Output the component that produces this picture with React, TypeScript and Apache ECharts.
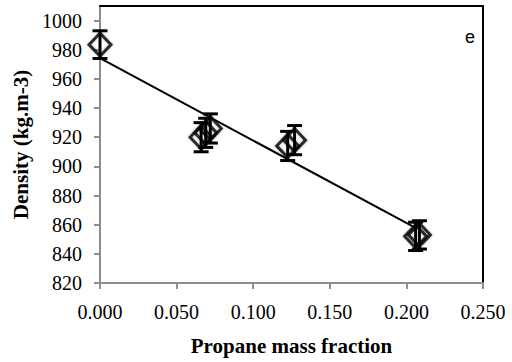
import React, { useEffect, useRef } from "react";
import * as echarts from "echarts";

// Propane mass fraction (x), density kg/m3 (y), error (±)
const massFraction = [0.0, 0.066, 0.069, 0.072, 0.1225, 0.127, 0.206, 0.2085];
const density = [983.5, 920, 923, 926, 914, 918, 852, 853];
const densityError = [9.5, 10, 10, 10, 10, 10, 9.7, 9.7];

// Linear trend line endpoints
const trendX = [0.0, 0.206];
const trendY = [974.2, 857.8];

const yTicks = [820, 840, 860, 880, 900, 920, 940, 960, 980, 1000];
const xTicks = [0, 0.05, 0.1, 0.15, 0.2, 0.25];

const AXIS_GRAY = "#8e8e8e";
const SERIF = "Liberation Serif";

const tickRich = { t: { fontFamily: SERIF, fontSize: 20, color: "#000" } };

export default function App() {
  const ref = useRef<HTMLDivElement>(null);

  useEffect(() => {
    if (!ref.current) return;
    const chart = echarts.init(ref.current, undefined, { renderer: "svg" });

    const points = massFraction.map((x, i) => [x, density[i]]);
    const errPoints = massFraction.map((x, i) => [x, density[i], densityError[i]]);
    const trend = trendX.map((x, i) => [x, trendY[i]]);

    chart.setOption({
      animation: false,
      backgroundColor: "#ffffff",
      textStyle: { fontFamily: SERIF, color: "#000" },
      grid: { left: 100, right: 29, top: 6, bottom: 79, containLabel: false },
      xAxis: [
        {
          type: "value",
          min: 0,
          max: 0.25,
          interval: 0.05,
          name: "Propane mass fraction",
          nameLocation: "middle",
          nameGap: 52,
          nameTextStyle: { fontFamily: SERIF, fontWeight: "bold", fontSize: 21, color: "#000" },
          axisLine: { show: true, lineStyle: { color: AXIS_GRAY, width: 2 } },
          axisTick: { show: true, inside: false, length: 6, lineStyle: { color: AXIS_GRAY, width: 2 } },
          axisLabel: {
            show: true,
            fontFamily: SERIF,
            fontSize: 20,
            color: "#000",
            margin: 19,
            rich: tickRich,
            formatter: (v: number) =>
              xTicks.some((t) => Math.abs(t - v) < 1e-9) ? "{t|" + Number(v).toFixed(3) + "}" : "",
          },
          splitLine: { show: false },
        },
        {
          type: "value",
          position: "top",
          min: 0,
          max: 0.25,
          axisLine: { show: true, onZero: false, lineStyle: { color: "#000", width: 2 } },
          axisTick: { show: false },
          axisLabel: { show: false },
          splitLine: { show: false },
        },
      ],
      yAxis: [
        {
          type: "value",
          min: 820,
          max: 1010,
          interval: 20,
          name: "Density (kg.m-3)",
          nameLocation: "middle",
          nameGap: 68,
          nameTextStyle: { fontFamily: SERIF, fontWeight: "bold", fontSize: 21, color: "#000" },
          axisLine: { show: true, lineStyle: { color: AXIS_GRAY, width: 2 } },
          axisTick: { show: true, inside: false, length: 6, lineStyle: { color: AXIS_GRAY, width: 2 }, customValues: yTicks },
          axisLabel: {
            show: true,
            fontFamily: SERIF,
            fontSize: 20,
            color: "#000",
            margin: 18,
            rich: tickRich,
            formatter: (v: number) =>
              yTicks.includes(Math.round(Number(v))) ? "{t|" + String(Math.round(Number(v))) + "}" : "",
          },
          splitLine: { show: false },
        },
        {
          type: "value",
          position: "right",
          min: 820,
          max: 1010,
          axisLine: { show: true, onZero: false, lineStyle: { color: "#000", width: 2 } },
          axisTick: { show: false },
          axisLabel: { show: false },
          splitLine: { show: false },
        },
      ],
      graphic: [
        {
          type: "text",
          right: 37,
          top: 28,
          style: { text: "e", fontFamily: "Liberation Sans", fontSize: 18, fill: "#000" },
        },
      ],
      series: [
        {
          type: "line",
          data: trend,
          xAxisIndex: 0,
          yAxisIndex: 0,
          showSymbol: false,
          symbol: "none",
          lineStyle: { color: "#000", width: 2 },
          z: 2,
        },
        {
          type: "scatter",
          data: points,
          xAxisIndex: 0,
          yAxisIndex: 0,
          symbol: "diamond",
          symbolSize: [22, 23],
          itemStyle: {
            color: "rgba(255,255,255,0)",
            borderColor: "#000",
            borderWidth: 3,
            shadowBlur: 3,
            shadowColor: "rgba(0,0,0,0.3)",
          },
          z: 3,
        },
        {
          type: "custom",
          data: errPoints,
          xAxisIndex: 0,
          yAxisIndex: 0,
          z: 4,
          renderItem: (params: any, api: any) => {
            const x = api.value(0);
            const y = api.value(1);
            const e = api.value(2);
            const top = api.coord([x, y + e]);
            const bot = api.coord([x, y - e]);
            const hw = 7.5;
            const style = { stroke: "#000", lineWidth: 3 };
            return {
              type: "group",
              children: [
                { type: "line", shape: { x1: top[0], y1: top[1], x2: bot[0], y2: bot[1] }, style },
                { type: "line", shape: { x1: top[0] - hw, y1: top[1], x2: top[0] + hw, y2: top[1] }, style },
                { type: "line", shape: { x1: bot[0] - hw, y1: bot[1], x2: bot[0] + hw, y2: bot[1] }, style },
              ],
            };
          },
        },
      ],
    });

    return () => chart.dispose();
  }, []);

  return (
    <div
      ref={ref}
      style={{ position: "fixed", left: 0, top: 0, width: 512, height: 362, background: "#fff" }}
    />
  );
}
